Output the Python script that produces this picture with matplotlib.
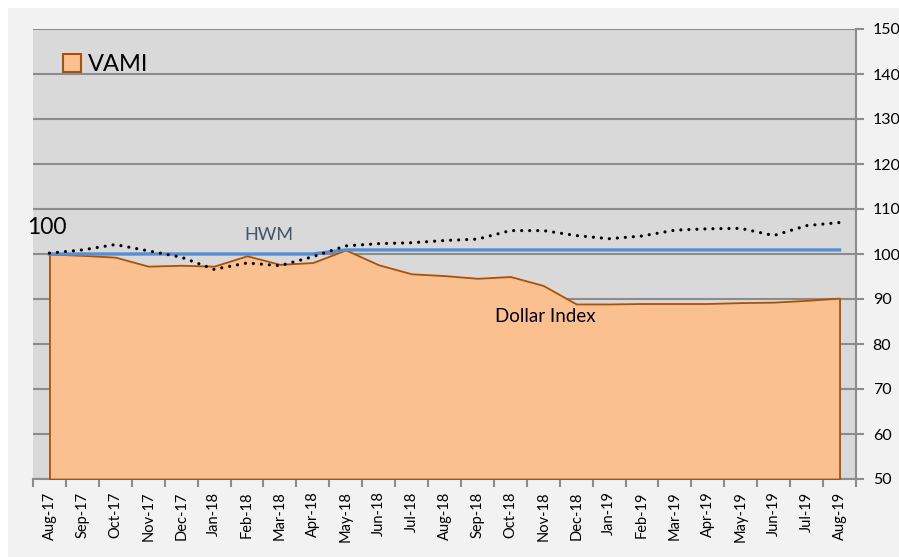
import numpy as np
import matplotlib
matplotlib.use('Agg')
from matplotlib import pyplot as plt
from matplotlib.patches import Patch, Rectangle

plt.rcParams['font.family'] = ['Lato', 'DejaVu Sans']

# dados
meses = ['Aug-17', 'Sep-17', 'Oct-17', 'Nov-17', 'Dec-17', 'Jan-18', 'Feb-18',
         'Mar-18', 'Apr-18', 'May-18', 'Jun-18', 'Jul-18', 'Aug-18', 'Sep-18',
         'Oct-18', 'Nov-18', 'Dec-18', 'Jan-19', 'Feb-19', 'Mar-19', 'Apr-19',
         'May-19', 'Jun-19', 'Jul-19', 'Aug-19']
vami = [100.0, 99.7, 99.3, 97.3, 97.5, 97.3, 99.6, 97.7, 98.1, 100.9, 97.6,
        95.6, 95.2, 94.6, 95.0, 93.0, 88.9, 88.9, 89.0, 89.0, 89.0, 89.2,
        89.3, 89.7, 90.2]
hwm = [100.0, 100.0, 100.0, 100.0, 100.0, 100.0, 100.0, 100.0, 100.0, 100.9,
       100.9, 100.9, 100.9, 100.9, 100.9, 100.9, 100.9, 100.9, 100.9, 100.9,
       100.9, 100.9, 100.9, 100.9, 100.9]
dollar_index = [100.2, 100.9, 102.1, 100.7, 99.3, 96.6, 98.0, 97.4, 99.4, 101.8,
                102.3, 102.5, 103.0, 103.3, 105.2, 105.2, 104.1, 103.4, 104.0,
                105.3, 105.6, 105.7, 104.1, 106.3, 107.0]

W, H = 899, 557
fig = plt.figure(figsize=(W / 100, H / 100), dpi=100)
fig.patch.set_facecolor('white')
# painel cinza claro do grafico
fig.add_artist(Rectangle((8 / W, 0), 1, 1 - 8 / H, transform=fig.transFigure,
                         facecolor='#f2f2f2', edgecolor='none', zorder=-10))

ax = fig.add_axes([33 / W, (H - 479) / H, (856 - 33) / W, (479 - 29) / H])
ax.set_facecolor('#d9d9d9')

x = np.arange(len(meses))
ax.fill_between(x, vami, 50, facecolor='#fac090', edgecolor='#a5520f',
                linewidth=1.3, zorder=3)
ax.plot(x, hwm, color='#558ed5', linewidth=2.4, zorder=4)
ax.plot(x, dollar_index, color='black', linewidth=2.3,
        linestyle=(0, (0.01, 2.5)), dash_capstyle='round', zorder=5)

ax.set_xlim(-0.5, len(meses) - 0.5)
ax.set_ylim(50, 150)
ax.set_yticks(np.arange(50, 151, 10))
ax.yaxis.tick_right()
ax.grid(axis='y', color='#8c8c8c', linewidth=1.5, zorder=1)
ax.set_axisbelow(True)

ax.set_xticks(x)
ax.set_xticklabels(meses, rotation=90, fontsize=10.5)
ax.set_xticks(np.arange(-0.5, len(meses), 1), minor=True)
ax.tick_params(axis='x', which='major', length=0, pad=9)
ax.tick_params(axis='x', which='minor', length=6, width=1.5, color='#8c8c8c')
ax.tick_params(axis='y', length=6, width=1.5, color='#8c8c8c', labelsize=11.5, pad=6)

for s in ['left', 'top']:
    ax.spines[s].set_visible(False)
for s in ['right', 'bottom']:
    ax.spines[s].set_color('#8c8c8c')
    ax.spines[s].set_linewidth(1.5)

ax.text(-0.08, 105.8, '100', fontsize=16.5, ha='center', va='center', zorder=6)
ax.text(6.67, 104.2, 'HWM', fontsize=13, color='#44546a', ha='center', va='center', zorder=6)
ax.text(15.05, 86, 'Dollar Index', fontsize=13.5, ha='center', va='center', zorder=6)

leg = ax.legend(handles=[Patch(facecolor='#fac090', edgecolor='#a5520f', linewidth=1.5)],
                labels=['VAMI'], loc='upper left', bbox_to_anchor=(0.025, 0.965),
                frameon=False, fontsize=17, handlelength=0.75, handleheight=0.75,
                handletextpad=0.3, borderaxespad=0)

plt.savefig('out.png', dpi=100)
plt.close()
